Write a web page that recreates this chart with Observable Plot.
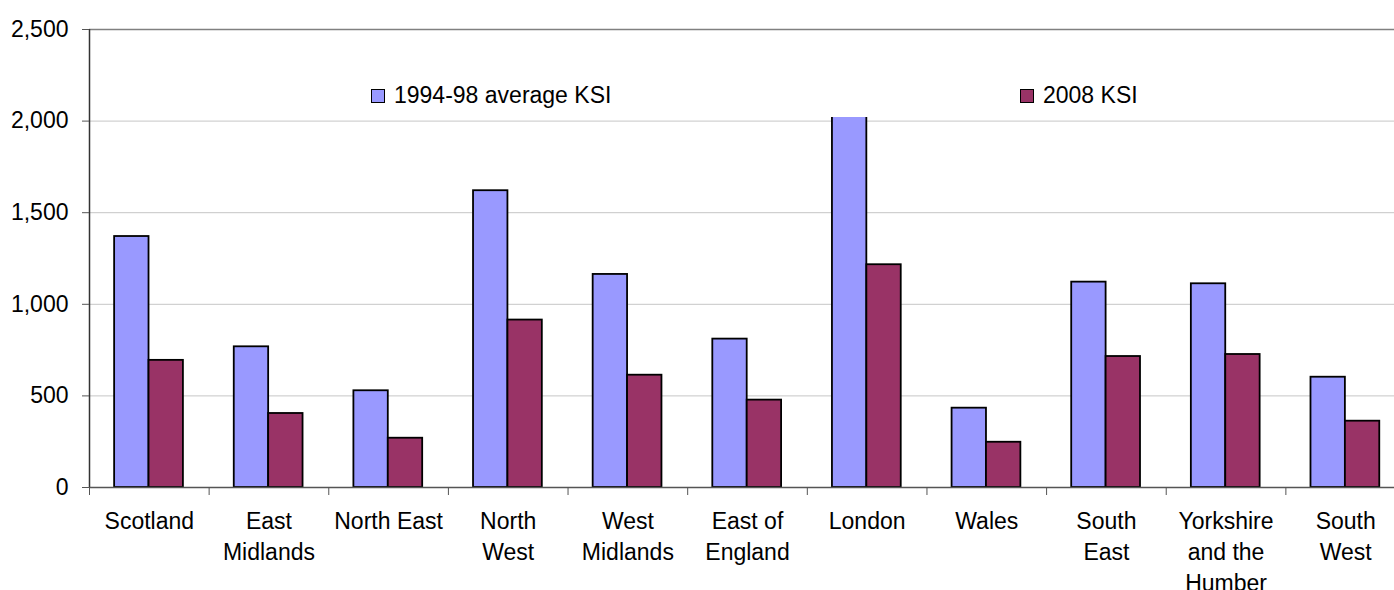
<!DOCTYPE html>
<html>
<head>
<meta charset="utf-8">
<script src="https://cdn.jsdelivr.net/npm/d3@7"></script>
<script src="https://cdn.jsdelivr.net/npm/@observablehq/plot@0.6"></script>
<style>
  html, body { margin: 0; padding: 0; background: #fff; overflow: hidden; }
  #chart { position: relative; width: 1394px; height: 590px; overflow: hidden;
           font-family: "Liberation Sans", Arial, sans-serif; }
  #chart svg { overflow: hidden; }
  .legend-box { position: absolute; left: 360px; top: 64px; width: 800px; height: 52.5px; background: #fff; }
  .legend-item { position: absolute; display: flex; align-items: center;
                 font-size: 23px; line-height: 1; color: #000; white-space: nowrap; }
  .legend-item .sw { width: 12px; height: 12px; border: 1.6px solid #000; margin-right: 9px; }
</style>
</head>
<body>
<div id="chart"></div>
<script>
// Killed or seriously injured (KSI) casualties by region
const regions = ["Scotland", "East Midlands", "North East", "North West", "West Midlands",
  "East of England", "London", "Wales", "South East", "Yorkshire and the Humber", "South West"];
const regionLabels = ["Scotland", "East\nMidlands", "North East", "North\nWest", "West\nMidlands",
  "East of\nEngland", "London", "Wales", "South\nEast", "Yorkshire\nand the\nHumber", "South\nWest"];
const avgKsi9498 = [1370, 768, 528, 1620, 1163, 810, 2050, 433, 1121, 1112, 602];
const ksi2008 = [694, 404, 269, 914, 613, 477, 1216, 247, 715, 726, 362];
const seriesNames = ["1994-98 average KSI", "2008 KSI"];
const seriesColors = ["#9999FF", "#993366"];
const yTicks = [0, 500, 1000, 1500, 2000, 2500];

// Two side-by-side bars inside each region's slot
const groupStart = 0.21;
const barWidth = 0.2875;
const rows = [];
regions.forEach((region, i) => {
  [avgKsi9498, ksi2008].forEach((values, s) => {
    const x1 = i + groupStart + s * barWidth;
    rows.push({region, series: seriesNames[s], value: values[i], x1, x2: x1 + barWidth});
  });
});

const chart = Plot.plot({
  width: 1394,
  height: 590,
  marginLeft: 89,
  marginRight: -11,
  marginTop: 29,
  marginBottom: 103,
  style: {fontFamily: "'Liberation Sans', Arial, sans-serif", fontSize: "23px", color: "#000", background: "#fff"},
  x: {domain: [0, regions.length], axis: null},
  y: {domain: [0, 2500], axis: null},
  color: {domain: seriesNames, range: seriesColors},
  marks: [
    Plot.ruleY(yTicks.filter(d => d > 0 && d < 2500), {stroke: "#c6c6c6", strokeWidth: 1}),
    Plot.ruleY([2500], {stroke: "#808080", strokeWidth: 1.5}),
    Plot.rect(rows, {x1: "x1", x2: "x2", y1: 0, y2: "value", fill: "series", stroke: "#000", strokeWidth: 1.8}),
    Plot.ruleY([0], {stroke: "#555", strokeWidth: 1.3}),
    Plot.ruleX([0], {stroke: "#333", strokeWidth: 1.5}),
    Plot.axisY({ticks: yTicks, tickSize: 7, tickPadding: 14, stroke: "#555",
      tickFormat: d3.format(","), fontSize: 23, label: null}),
    Plot.axisX({ticks: d3.range(regions.length + 1), tickSize: 8, stroke: "#555",
      tickFormat: () => "", label: null}),
    Plot.axisX({ticks: d3.range(regions.length).map(i => i + 0.5), tickSize: 0, tickPadding: 19,
      tickFormat: v => regionLabels[Math.floor(v)], fontSize: 23, lineHeight: 1.35, label: null})
  ]
});

const host = document.getElementById("chart");
host.appendChild(chart);

// Legend: a plain white box inside the plot area, above the bars
const box = document.createElement("div");
box.className = "legend-box";
host.appendChild(box);

const legendSpots = [{left: 371, top: 84}, {left: 1020, top: 84}];
seriesNames.forEach((name, s) => {
  const item = document.createElement("div");
  item.className = "legend-item";
  item.style.left = legendSpots[s].left + "px";
  item.style.top = legendSpots[s].top + "px";
  const sw = document.createElement("span");
  sw.className = "sw";
  sw.style.background = seriesColors[s];
  const label = document.createElement("span");
  label.textContent = name;
  item.appendChild(sw);
  item.appendChild(label);
  host.appendChild(item);
});
</script>
</body>
</html>
